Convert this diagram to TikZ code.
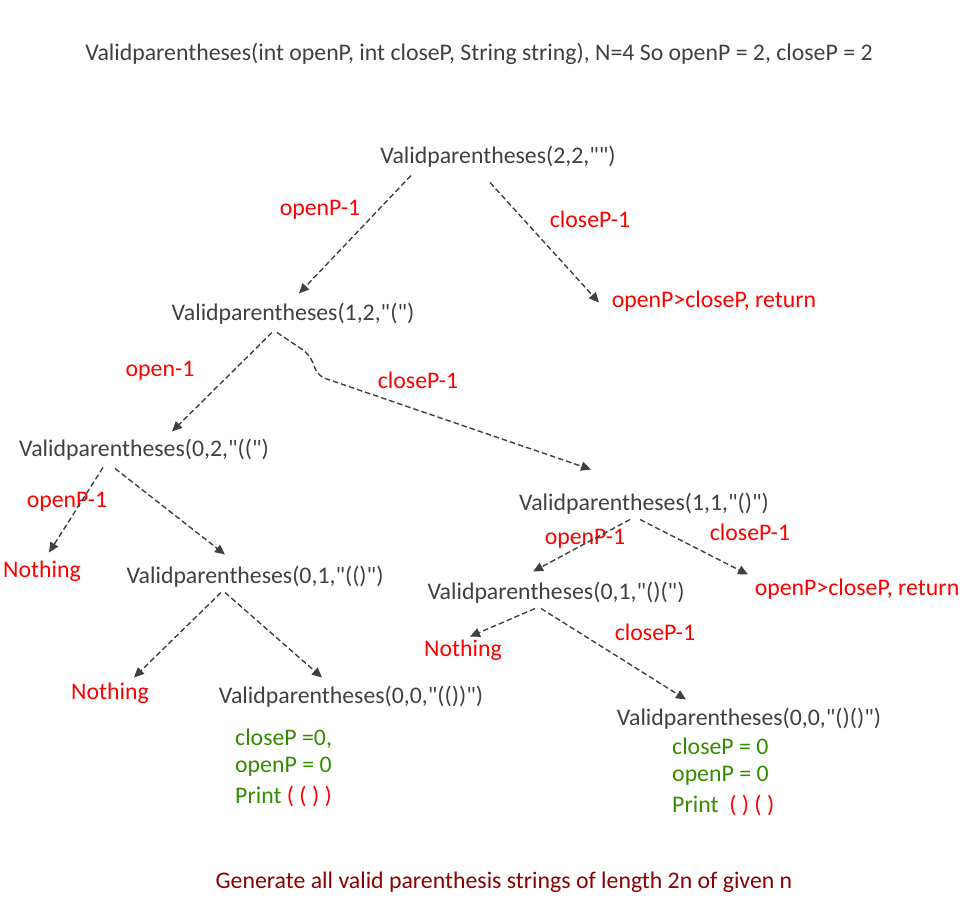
\documentclass[tikz,border=0pt]{standalone}
\usepackage{fontspec}
\setmainfont{Carlito}[Ligatures=TeXOff]
\usetikzlibrary{arrows.meta}
\definecolor{txtgray}{RGB}{64,64,64}
\definecolor{myred}{RGB}{255,0,0}
\definecolor{mygreen}{RGB}{51,140,0}
\definecolor{darkred}{RGB}{139,0,0}
\begin{document}
\begin{tikzpicture}[x=1pt,y=-1pt,
  every node/.style={inner sep=0pt,yshift=-1.5pt,font=\fontsize{23.8}{28}\selectfont},
  call/.style={text=txtgray},
  lab/.style={text=myred},
  res/.style={text=mygreen,anchor=west},
  arr/.style={draw=txtgray,line width=1.4pt,dash pattern=on 5.5pt off 3pt,-{Triangle[length=10pt,width=9pt]}}]
\useasboundingbox (0,0) rectangle (974,898);
% title
\node[call] (title) at (479,52) {Validparentheses(int openP, int closeP, String string), N=4 So openP = 2, closeP = 2};
% nodes
\node[call] (n1) at (498,155) {Validparentheses(2,2,"")};
\node[lab] (r1) at (714,300) {openP>closeP, return};
\node[call] (n3) at (293,312) {Validparentheses(1,2,"(")};
\node[call] (n4) at (144,448) {Validparentheses(0,2,"((")};
\node[lab] (no1) at (42,570) {Nothing};
\node[call] (n5) at (255,575) {Validparentheses(0,1,"(()")};
\node[lab] (no2) at (110,692) {Nothing};
\node[call] (n6) at (351,695) {Validparentheses(0,0,"(())")};
\node[call] (n7) at (644,502) {Validparentheses(1,1,"()")};
\node[lab] (r2) at (857,588) {openP>closeP, return};
\node[call] (n8) at (556,591) {Validparentheses(0,1,"()(")};
\node[lab] (no3) at (463,649) {Nothing};
\node[call] (n9) at (749,717) {Validparentheses(0,0,"()()")};
% edge labels
\node[lab] (l1) at (320,208) {openP-1};
\node[lab] (l2) at (590,218) {closeP-1};
\node[lab] (l3) at (160,369) {open-1};
\node[lab] (l4) at (418,379) {closeP-1};
\node[lab] (l5) at (67,500) {openP-1};
\node[lab] (l6) at (585,537) {openP-1};
\node[lab] (l7) at (750,531) {closeP-1};
\node[lab] (l8) at (655,631) {closeP-1};
% results
\node[res] (g1) at (235,737) {closeP =0,};
\node[res] (g2) at (235,765) {openP = 0};
\node[res] (g3) at (235,795) {Print \textcolor{myred}{( ( ) )}};
\node[res] (g4) at (672,745) {closeP = 0};
\node[res] (g5) at (672,774) {openP = 0};
\node[res] (g6) at (672,804) {Print \ \textcolor{myred}{( ) ( )}};
% footer
\node[text=darkred] (foot) at (504,881) {Generate all valid parenthesis strings of length 2n of given n};
% connector ends
\coordinate (a1s) at (411,174); \coordinate (a1e) at (299,292);
\coordinate (a2s) at (490,181); \coordinate (a2e) at (599,301);
\coordinate (a3s) at (272,331); \coordinate (a3e) at (172,430);
\coordinate (a4s) at (277,331); \coordinate (a4e) at (591,468);
\coordinate (a5s) at (103,466); \coordinate (a5e) at (49,551);
\coordinate (a6s) at (115,467); \coordinate (a6e) at (225,553);
\coordinate (a7s) at (221,591); \coordinate (a7e) at (134,676);
\coordinate (a8s) at (225,591); \coordinate (a8e) at (322,676);
\coordinate (a9s) at (630,518); \coordinate (a9e) at (533,570);
\coordinate (a10s) at (640,518); \coordinate (a10e) at (748,573);
\coordinate (a11s) at (535,607); \coordinate (a11e) at (470,635);
\coordinate (a12s) at (541,607); \coordinate (a12e) at (686,698);
% connectors
\draw[arr] (a1s) -- (a1e);
\draw[arr] (a2s) -- (a2e);
\draw[arr] (a3s) -- (a3e);
\draw[arr] (a4s) -- (303,350) .. controls (318,362) and (310,370) .. (324,378) -- (a4e);
\draw[arr] (a5s) -- (a5e);
\draw[arr] (a6s) -- (a6e);
\draw[arr] (a7s) -- (a7e);
\draw[arr] (a8s) -- (a8e);
\draw[arr] (a9s) -- (a9e);
\draw[arr] (a10s) -- (a10e);
\draw[arr] (a11s) -- (a11e);
\draw[arr] (a12s) -- (a12e);
\end{tikzpicture}
\end{document}
